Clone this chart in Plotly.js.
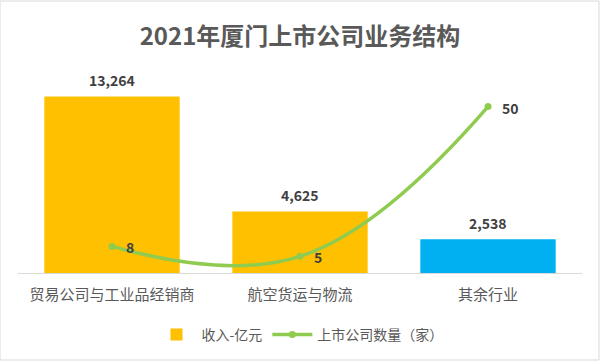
<!DOCTYPE html>
<html>
<head>
<meta charset="utf-8">
<script src="https://cdn.plot.ly/plotly-3.0.1.min.js"></script>
<style>html,body{margin:0;padding:0;background:#fff;}#chart{width:600px;height:361px;}</style>
</head>
<body>
<div id="chart"></div>
<script>
const categories = ['贸易公司与工业品经销商', '航空货运与物流', '其余行业'];
const revenue = [13264, 4625, 2538];
const companies = [8, 5, 50];
const barColors = ['#FFC000', '#FFC000', '#00B0F0'];
const seriesNames = ['收入-亿元', '上市公司数量（家）'];
const titleText = '2021年厦门上市公司业务结构';

const FONT = '"Noto Sans CJK SC", "Noto Sans", sans-serif';
const labelFont = {family: FONT, size: 14, color: '#404040', weight: 'bold'};

const data = [
  {
    type: 'bar',
    x: categories,
    y: revenue,
    name: seriesNames[0],
    marker: {color: barColors},
    width: 0.72,
    hoverinfo: 'none'
  },
  {
    type: 'scatter',
    mode: 'lines+markers',
    x: categories,
    y: companies,
    yaxis: 'y2',
    name: seriesNames[1],
    line: {color: '#8FCB4F', width: 3.5, shape: 'spline', smoothing: 1.2},
    marker: {color: '#8FCB4F', size: 7},
    cliponaxis: false,
    hoverinfo: 'none'
  }
];

const annotations = [];
categories.forEach((c, i) => {
  annotations.push({
    x: c, y: revenue[i], xref: 'x', yref: 'y',
    text: revenue[i].toLocaleString('en-US'),
    showarrow: false, yanchor: 'middle', yshift: 16,
    font: labelFont
  });
  annotations.push({
    x: c, y: companies[i], xref: 'x', yref: 'y2',
    text: String(companies[i]),
    showarrow: false, xanchor: 'left', yanchor: 'middle', xshift: 12, yshift: -1,
    font: labelFont
  });
});

const layout = {
  width: 600,
  height: 361,
  margin: {l: 18, r: 18, t: 60, b: 88},
  paper_bgcolor: '#ffffff',
  plot_bgcolor: '#ffffff',
  font: {family: FONT, color: '#595959'},
  title: {
    text: titleText,
    font: {family: FONT, size: 24, color: '#595959', weight: 'bold'},
    x: 0.5, xanchor: 'center',
    y: 1 - 37/361, yref: 'container', yanchor: 'middle'
  },
  showlegend: true,
  legend: {
    orientation: 'h',
    x: 0.5, xanchor: 'center',
    y: 1 - 335/361, yref: 'container', yanchor: 'middle',
    font: {family: FONT, size: 14, color: '#595959'},
    itemwidth: 40,
    traceorder: 'normal'
  },
  annotations: annotations,
  xaxis: {
    showline: true, linecolor: '#D9D9D9', linewidth: 1,
    ticks: '', showgrid: false, zeroline: false,
    tickfont: {family: FONT, size: 15, color: '#595959'},
    ticklabelstandoff: 8,
    fixedrange: true
  },
  yaxis: {
    range: [0, 16000], visible: false, showgrid: false, zeroline: false, fixedrange: true
  },
  yaxis2: {
    range: [0, 64], overlaying: 'y', side: 'right', visible: false, showgrid: false, zeroline: false, fixedrange: true
  },
  shapes: [
    {type: 'rect', xref: 'paper', yref: 'paper', x0: -18/564, x1: 1 + 17/564, y0: -87/213, y1: 1 + 59/213,
     line: {color: '#D9D9D9', width: 1}, fillcolor: 'rgba(0,0,0,0)', layer: 'below'}
  ]
};

Plotly.newPlot('chart', data, layout, {staticPlot: true, displayModeBar: false});
</script>
</body>
</html>
